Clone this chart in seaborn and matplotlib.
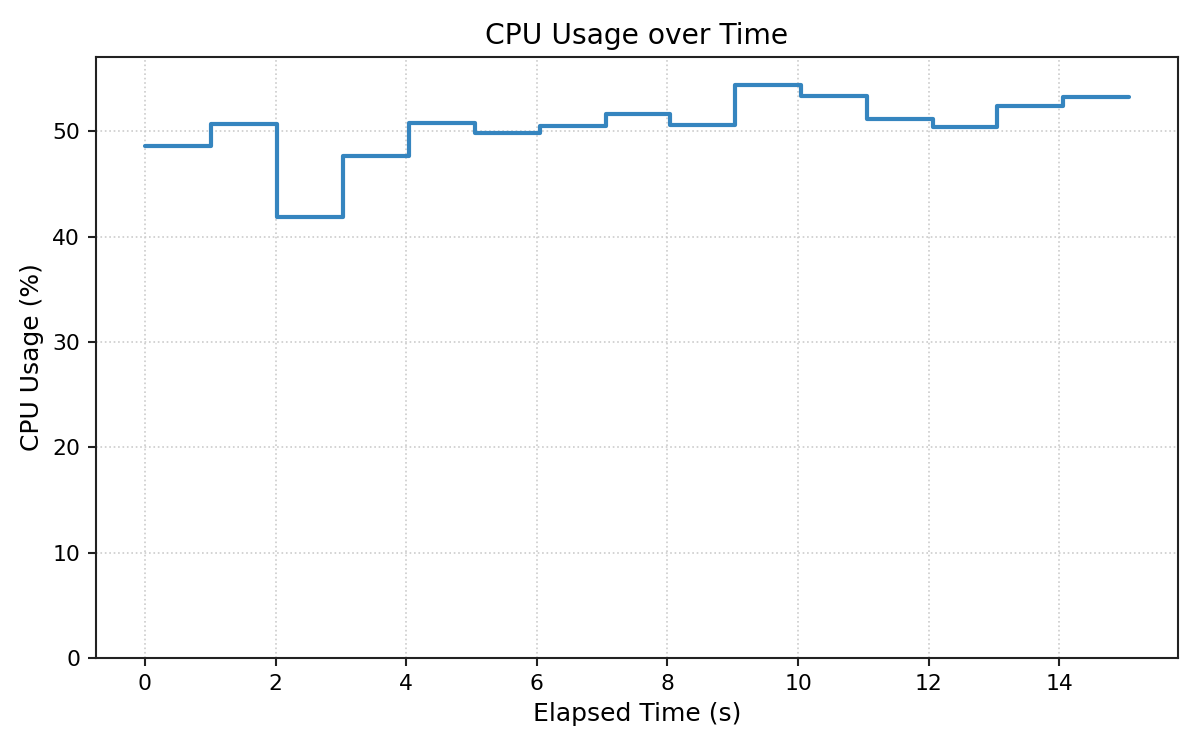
import matplotlib
matplotlib.use("Agg")
import matplotlib.pyplot as plt
import seaborn as sns
import pandas as pd

# Samples (roughly one per second)
elapsed_s = [0.0, 1.01, 2.02, 3.03, 4.04, 5.05, 6.05, 7.06,
             8.04, 9.04, 10.05, 11.06, 12.06, 13.05, 14.06, 15.06]
cpu_pct = [48.64, 50.70, 41.85, 47.69, 50.80, 49.90, 50.48, 51.69,
           50.57, 54.38, 53.33, 51.14, 50.38, 52.38, 53.24, 53.24]

df = pd.DataFrame({"elapsed": elapsed_s, "cpu": cpu_pct})

sns.set_style("white")
plt.rcParams["font.family"] = ["DejaVu Sans"]
plt.rcParams["text.color"] = "black"
plt.rcParams["axes.labelcolor"] = "black"
plt.rcParams["xtick.color"] = "black"
plt.rcParams["ytick.color"] = "black"

fig, ax = plt.subplots(figsize=(8, 5), dpi=150)
sns.lineplot(data=df, x="elapsed", y="cpu", drawstyle="steps-post",
             color="#3585bf", linewidth=2, ax=ax)

# y axis starts at zero, 5% headroom above the peak
ax.set_ylim(0, max(cpu_pct) * 1.05)
ax.grid(True, linestyle=":", color="#cccccc", linewidth=0.8)
for s in ax.spines.values():
    s.set_color("#222222")
    s.set_linewidth(1.0)
ax.tick_params(axis="both", which="both", direction="out", length=4,
               width=1, color="#222222", labelsize=10.5, left=True, bottom=True)

ax.set_title("CPU Usage over Time", fontsize=13.5)
ax.set_xlabel("Elapsed Time (s)", fontsize=12)
ax.set_ylabel("CPU Usage (%)", fontsize=12)

fig.subplots_adjust(left=0.0798, right=0.9814, top=0.9244, bottom=0.1227)
plt.savefig("out.png", dpi=150)
plt.close()
